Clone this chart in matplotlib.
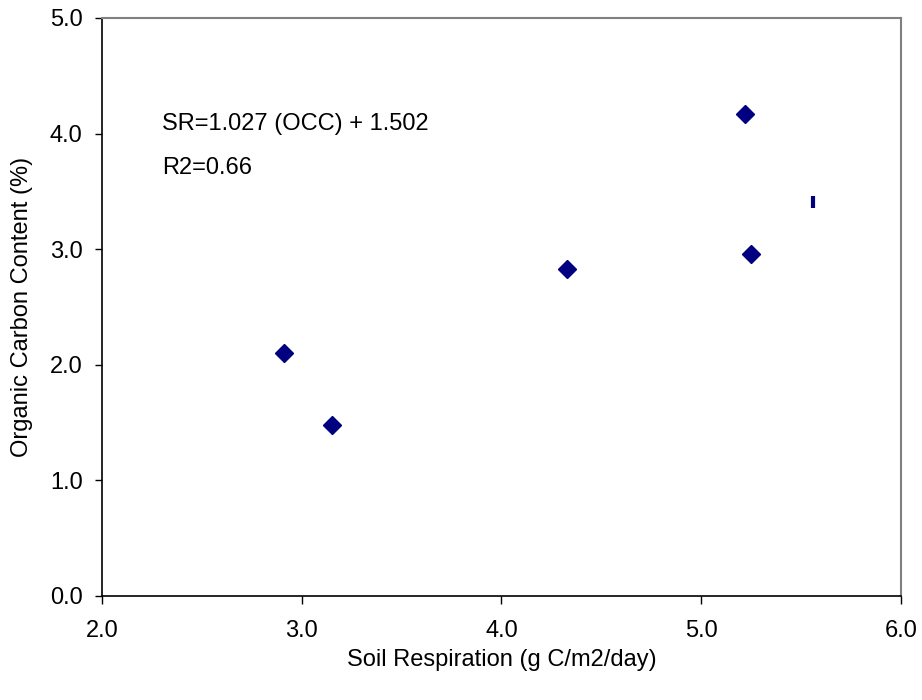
import matplotlib
matplotlib.use("Agg")
from matplotlib import pyplot as plt

plt.rcParams['font.family'] = ['Liberation Sans', 'DejaVu Sans']

# soil respiration (x) vs organic carbon content (y)
resp = [2.91, 3.15, 4.33, 5.22, 5.25]
occ = [2.10, 1.48, 2.83, 4.17, 2.96]
# the odd point drawn with a bar marker
resp_bar = [5.56]
occ_bar = [3.41]

equation = "SR=1.027 (OCC) + 1.502"
r2_text = "R2=0.66"

NAVY = "#000080"
FS = 17

fig = plt.figure(figsize=(9.22, 7.0), dpi=100)
ax = fig.add_axes([0.1106, 0.1486, 0.8666, 0.8257])

ax.plot(resp, occ, linestyle="none", marker="D", markersize=9,
        color=NAVY, markeredgecolor=NAVY)
ax.plot(resp_bar, occ_bar, linestyle="none", marker="|", markersize=9,
        markeredgewidth=3, color=NAVY)

ax.set_xlim(2.0, 6.0)
ax.set_ylim(0.0, 5.0)
ax.set_xticks([2, 3, 4, 5, 6])
ax.set_yticks([0, 1, 2, 3, 4, 5])
ax.xaxis.set_major_formatter(matplotlib.ticker.FormatStrFormatter("%.1f"))
ax.yaxis.set_major_formatter(matplotlib.ticker.FormatStrFormatter("%.1f"))
ax.tick_params(axis="x", direction="out", length=6, width=1, labelsize=FS, pad=11)
ax.tick_params(axis="y", direction="out", length=5, width=1, labelsize=FS, pad=9)

for side in ("top", "right"):
  ax.spines[side].set_color("#808080")
  ax.spines[side].set_linewidth(1.5)
for side in ("left", "bottom"):
  ax.spines[side].set_color("black")
  ax.spines[side].set_linewidth(1.2)

ax.set_xlabel("Soil Respiration (g C/m2/day)", fontsize=FS, labelpad=5)
ax.set_ylabel("Organic Carbon Content (%)", fontsize=FS, labelpad=12)

ax.text(2.30, 4.08, equation, fontsize=FS, va="center", ha="left")
ax.text(2.30, 3.70, r2_text, fontsize=FS, va="center", ha="left")

fig.savefig("out.png", dpi=100)
